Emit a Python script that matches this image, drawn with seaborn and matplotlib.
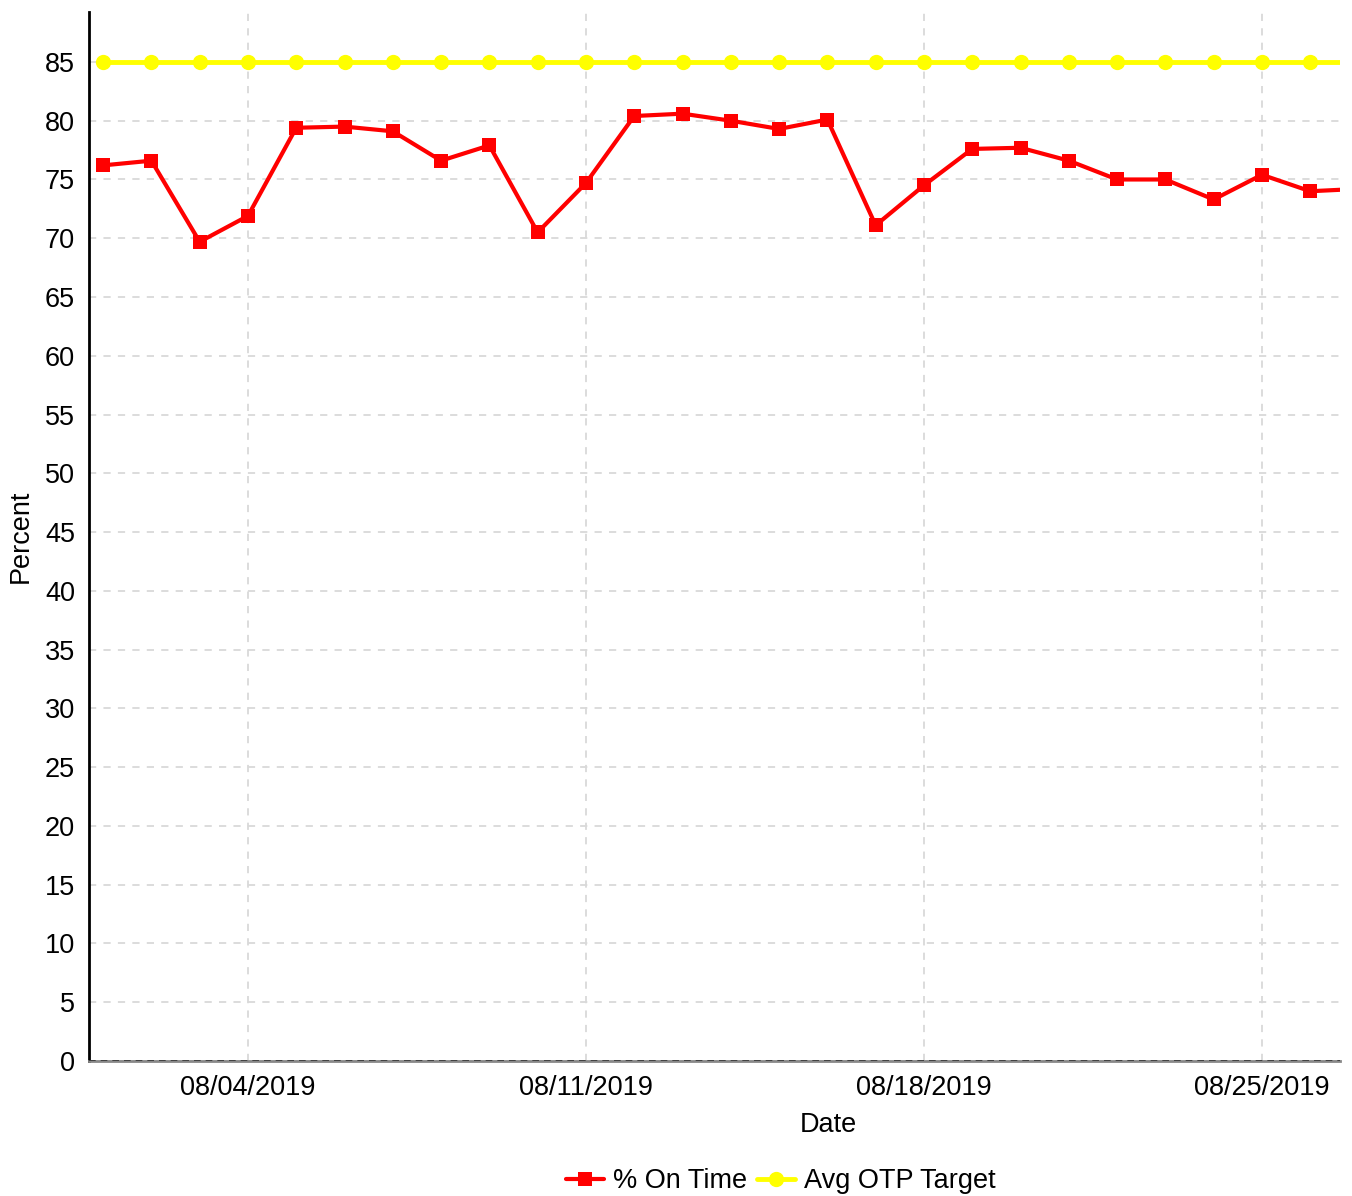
import matplotlib
matplotlib.use("Agg")
import matplotlib.pyplot as plt
import matplotlib.dates as mdates
import pandas as pd
import seaborn as sns

# daily values
dates = pd.date_range("2019-08-01", "2019-08-27", freq="D")
on_time = [76.2, 76.6, 69.7, 71.9, 79.4, 79.5, 79.1, 76.6, 77.9, 70.5,
           74.7, 80.4, 80.6, 80.0, 79.3, 80.1, 71.1, 74.5, 77.6, 77.7,
           76.6, 75.0, 75.0, 73.3, 75.4, 74.0, 74.2]
target = [85] * len(dates)

df = pd.DataFrame({"Date": dates, "on_time": on_time, "target": target})

sns.set_style("white")
plt.rcParams["font.family"] = ["Liberation Sans", "DejaVu Sans"]
plt.rcParams["text.color"] = "black"
plt.rcParams["axes.labelcolor"] = "black"
plt.rcParams["xtick.labelcolor"] = "black"
plt.rcParams["ytick.labelcolor"] = "black"

fig = plt.figure(figsize=(13.52, 11.96), dpi=100)
ax = fig.add_axes([89 / 1352, 1 - 1061 / 1196, (1340 - 89) / 1352, (1061 - 12) / 1196])

sns.lineplot(data=df, x="Date", y="on_time", ax=ax, color="#ff0000", lw=3,
             marker="s", markersize=10, markeredgewidth=0, label="% On Time", zorder=4)
sns.lineplot(data=df, x="Date", y="target", ax=ax, color="#ffff00", lw=3.5,
             marker="o", markersize=11, markeredgewidth=0, label="Avg OTP Target", zorder=3)

x0 = pd.Timestamp("2019-08-01") - pd.Timedelta(hours=7)
x1 = pd.Timestamp("2019-08-26") + pd.Timedelta(hours=14.8)
ax.set_xlim(x0, x1)
ax.set_ylim(0, 89.25)
ax.set_yticks(range(0, 90, 5))
ax.xaxis.set_major_locator(mdates.DayLocator(bymonthday=[4, 11, 18, 25]))
ax.xaxis.set_major_formatter(mdates.DateFormatter("%m/%d/%Y"))

ax.grid(True, color="#d9d9d9", linestyle=(0, (4, 4)), lw=1.3)
ax.axhline(0, color="#333333", lw=1.2, ls=(0, (4, 3)), zorder=5)
for s in ["top", "right"]:
    ax.spines[s].set_visible(False)
ax.spines["left"].set_color("black")
ax.spines["left"].set_linewidth(2)
ax.spines["bottom"].set_color("#888888")
ax.spines["bottom"].set_linewidth(2)
ax.tick_params(axis="both", labelsize=19.5, length=6, width=2, color="#888888", pad=4)

ax.set_xlabel("Date", fontsize=19.5)
ax.xaxis.set_label_coords(0.591, -0.049)
ax.set_ylabel("Percent", fontsize=19.5, labelpad=8)

ax.legend(loc="upper center", bbox_to_anchor=(0.553, -0.079), ncol=2, frameon=False,
          fontsize=19.5, handlelength=1.4, handletextpad=0.3, columnspacing=0.4)

fig.savefig("out.png", dpi=100)
